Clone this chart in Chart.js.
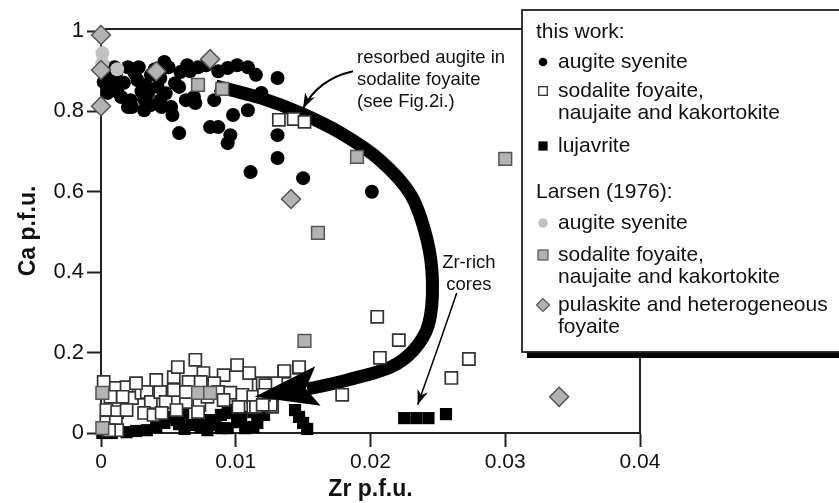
<!DOCTYPE html>
<html>
<head>
<meta charset="utf-8">
<title>Ca vs Zr in clinopyroxene</title>
<script src="https://cdn.jsdelivr.net/npm/chart.js@4.4.1/dist/chart.umd.min.js"></script>
<style>
  html, body { margin: 0; padding: 0; background: #fff; }
  #wrap { width: 839px; height: 503px; }
</style>
</head>
<body>
<div id="wrap"><canvas id="zrCa" width="839" height="503"></canvas></div>
<script>
// --- data: [Zr p.f.u., Ca p.f.u.] ---
const augiteSyenite = [
  [0.0005,0.886],[0.0010,0.910],[0.0020,0.910],[0.0028,0.910],[0.0027,0.878],[0.0017,0.871],
  [0.0007,0.861],[0.0005,0.846],[0.0015,0.836],[0.0022,0.828],[0.0020,0.811],[0.0032,0.803],
  [0.0035,0.846],[0.0044,0.828],[0.0047,0.923],[0.0050,0.910],[0.0042,0.861],[0.0052,0.811],
  [0.0053,0.791],[0.0058,0.746],[0.0059,0.898],[0.0064,0.915],[0.0072,0.910],[0.0078,0.915],
  [0.0058,0.861],[0.0069,0.836],[0.0070,0.821],[0.0084,0.828],[0.0081,0.761],[0.0087,0.761],
  [0.0094,0.908],[0.0101,0.915],[0.0109,0.910],[0.0115,0.891],[0.0119,0.846],[0.0109,0.803],
  [0.0098,0.791],[0.0096,0.741],[0.0094,0.721],[0.0131,0.883],[0.0111,0.649],[0.0131,0.741],
  [0.0131,0.684],[0.0150,0.634],[0.0201,0.600],[0.0037,0.891],[0.0011,0.891],[0.0033,0.866],
  [0.0002,0.873],[0.0004,0.903],[0.0044,0.883],[0.0063,0.828],[0.0023,0.811],[0.0045,0.811],
  [0.0037,0.816],[0.0025,0.895],[0.0040,0.905],[0.0030,0.850],[0.0012,0.850],[0.0055,0.870],
  [0.0008,0.875],[0.0032,0.830],[0.0048,0.845],[0.0066,0.900],[0.0087,0.900]
];
const sodaliteFoyaite = [
  [0.0132,0.779],[0.0143,0.781],[0.0151,0.774],
  [0.0205,0.289],[0.0221,0.231],[0.0207,0.187],[0.0273,0.184],[0.0260,0.137],[0.0179,0.095],
  [0.0147,0.162],[0.0136,0.152],
  [0.0002,0.127],[0.0011,0.112],[0.0019,0.114],[0.0023,0.087],[0.0030,0.100],[0.0034,0.102],
  [0.0037,0.077],[0.0044,0.102],[0.0048,0.077],[0.0054,0.139],[0.0054,0.107],[0.0004,0.057],
  [0.0012,0.052],[0.0019,0.057],[0.0032,0.050],[0.0039,0.045],[0.0045,0.050],[0.0004,0.027],
  [0.0011,0.027],[0.0012,0.007],[0.0006,0.007],[0.0016,0.090],[0.0007,0.090],[0.0070,0.182],
  [0.0057,0.164],[0.0076,0.149],[0.0101,0.169],[0.0091,0.144],[0.0110,0.149],[0.0117,0.119],
  [0.0065,0.127],[0.0074,0.127],[0.0084,0.124],[0.0087,0.102],[0.0096,0.100],[0.0105,0.095],
  [0.0113,0.090],[0.0063,0.077],[0.0073,0.070],[0.0091,0.082],[0.0102,0.065],[0.0113,0.065],
  [0.0056,0.057],[0.0072,0.052],[0.0079,0.090],[0.0120,0.124],[0.0130,0.124],[0.0127,0.065],
  [0.0115,0.065],[0.0136,0.154],[0.0147,0.164],[0.0122,0.119],[0.0126,0.070],[0.0121,0.095],
  [0.0120,0.070],[0.0026,0.124],[0.0041,0.132],[0.0063,0.102]
];
const lujavrite = [
  [0.0225,0.037],[0.0234,0.037],[0.0243,0.037],[0.0256,0.047],
  [0.0144,0.057],[0.0147,0.040],[0.0150,0.025],[0.0153,0.010],
  [0.0001,0.000],[0.0008,0.000],[0.0019,0.002],[0.0026,0.005],[0.0034,0.007],[0.0041,0.015],
  [0.0047,0.025],[0.0050,0.040],[0.0056,0.057],[0.0056,0.032],[0.0061,0.050],[0.0072,0.040],
  [0.0074,0.015],[0.0081,0.032],[0.0089,0.045],[0.0089,0.012],[0.0098,0.050],[0.0101,0.027],
  [0.0113,0.052],[0.0116,0.025],[0.0113,0.015],[0.0121,0.045],[0.0126,0.065],[0.0067,0.020],
  [0.0079,0.007],[0.0107,0.012],[0.0094,0.012],[0.0094,0.057],[0.0062,0.010],[0.0085,0.020],
  [0.0104,0.040],[0.0058,0.022]
];
const larsenAugiteSyenite = [[0.0001,0.945],[0.0012,0.905],[0.0001,0.920]];
const larsenSodaliteFoyaite = [
  [0.0072,0.866],[0.0090,0.856],[0.0190,0.687],[0.0300,0.682],[0.0161,0.498],[0.0151,0.229],
  [0.0072,0.100],[0.0081,0.100],[0.0001,0.100],[0.0001,0.012]
];
const larsenPulaskite = [
  [0.0000,0.990],[0.0000,0.903],[0.0041,0.900],[0.0081,0.930],[0.0000,0.813],[0.0141,0.582],
  [0.0340,0.090]
];

const xTicks = [0, 0.01, 0.02, 0.03, 0.04];
const xTickLabels = ['0', '0.01', '0.02', '0.03', '0.04'];
const yTicks = [0, 0.2, 0.4, 0.6, 0.8, 1];
const yTickLabels = ['0', '0.2', '0.4', '0.6', '0.8', '1'];

// trend arrow (resorbed augite -> Zr-poor rims) and its head
const trendPath = [
  [0.0085,0.863],[0.0119,0.833],[0.0148,0.796],[0.0178,0.746],[0.0207,0.679],[0.0230,0.592],
  [0.0242,0.480],[0.0246,0.373],[0.0243,0.269],[0.0232,0.206],[0.0215,0.164],[0.0183,0.132],
  [0.0153,0.109]
];
const trendHead = [[0.0114,0.090],[0.0159,0.166],[0.0152,0.110],[0.0163,0.068]];

// callout texts and their leader arrows: [start, control, tip]
const resorbedText = ['resorbed augite in', 'sodalite foyaite', '(see Fig.2i.)'];
const resorbedAnchor = [0.0190, 0.933];
const resorbedLeader = [[0.0187,0.900],[0.0161,0.880],[0.0150,0.808]];
const coresText = ['Zr-rich', 'cores'];
const coresAnchor = [0.0273, 0.423];
const coresLeader = [[0.0264,0.348],[0.0250,0.210],[0.0235,0.070]];

const legendLabels = {
  thisWork: 'this work:',
  larsen: 'Larsen (1976):',
  augite: ['augite syenite'],
  sodalite: ['sodalite foyaite,', 'naujaite and kakortokite'],
  lujavrite: ['lujavrite'],
  pulaskite: ['pulaskite and heterogeneous', 'foyaite']
};

const FONT = "'Liberation Sans', Arial, Helvetica, sans-serif";
const INK = '#111';

const markers = {
  blackDot:   { pointStyle: 'circle',  radius: 7,   fill: '#000',    stroke: '#000',    bw: 0 },
  openSquare: { pointStyle: 'rect',    radius: 8.6, fill: '#fff',    stroke: '#333',    bw: 1.7 },
  blackSquare:{ pointStyle: 'rect',    radius: 8.6, fill: '#000',    stroke: '#000',    bw: 0 },
  greyDot:    { pointStyle: 'circle',  radius: 7,   fill: '#c2c2c2', stroke: '#c2c2c2', bw: 0 },
  greySquare: { pointStyle: 'rect',    radius: 9,   fill: '#b3b3b3', stroke: '#555',    bw: 1.5 },
  greyDiamond:{ pointStyle: 'rectRot', radius: 9.5, fill: '#b3b3b3', stroke: '#555',    bw: 1.5 }
};

function series(label, pts, m, order) {
  return {
    label,
    data: pts.map(p => ({ x: p[0], y: p[1] })),
    pointStyle: m.pointStyle,
    pointRadius: m.radius,
    pointHoverRadius: m.radius,
    backgroundColor: m.fill,
    borderColor: m.stroke,
    borderWidth: m.bw,
    order,
    clip: false
  };
}

// frame: top and right edges of the plot box
const framePlugin = {
  id: 'frame',
  beforeDatasetsDraw(chart) {
    const { ctx, chartArea: a } = chart;
    ctx.save();
    ctx.strokeStyle = '#222';
    ctx.lineWidth = 2;
    ctx.beginPath();
    ctx.moveTo(a.left, a.top);
    ctx.lineTo(a.right, a.top);
    ctx.lineTo(a.right, a.bottom);
    ctx.stroke();
    ctx.restore();
  }
};

function toPx(chart, p) {
  return { x: chart.scales.x.getPixelForValue(p[0]), y: chart.scales.y.getPixelForValue(p[1]) };
}

function smoothStroke(ctx, pts) {
  ctx.moveTo(pts[0].x, pts[0].y);
  for (let i = 0; i < pts.length - 1; i++) {
    const p0 = pts[i - 1] || pts[i], p1 = pts[i], p2 = pts[i + 1], p3 = pts[i + 2] || p2;
    ctx.bezierCurveTo(
      p1.x + (p2.x - p0.x) / 6, p1.y + (p2.y - p0.y) / 6,
      p2.x - (p3.x - p1.x) / 6, p2.y - (p3.y - p1.y) / 6,
      p2.x, p2.y
    );
  }
}

function leader(ctx, chart, pts, width) {
  const [s, c, t] = pts.map(p => toPx(chart, p));
  ctx.beginPath();
  ctx.moveTo(s.x, s.y);
  ctx.quadraticCurveTo(c.x, c.y, t.x, t.y);
  ctx.lineWidth = width;
  ctx.stroke();
  // small filled head
  const ang = Math.atan2(t.y - c.y, t.x - c.x);
  const len = 15, half = 5.5;
  const bx = t.x - Math.cos(ang) * len, by = t.y - Math.sin(ang) * len;
  const nx = t.x - Math.cos(ang) * len * 0.7, ny = t.y - Math.sin(ang) * len * 0.7;
  ctx.beginPath();
  ctx.moveTo(t.x, t.y);
  ctx.lineTo(bx - Math.sin(ang) * half, by + Math.cos(ang) * half);
  ctx.lineTo(nx, ny);
  ctx.lineTo(bx + Math.sin(ang) * half, by - Math.cos(ang) * half);
  ctx.closePath();
  ctx.fill();
}

const arrowPlugin = {
  id: 'trendArrow',
  beforeDatasetsDraw(chart) {
    const { ctx } = chart;
    ctx.save();
    ctx.strokeStyle = '#000';
    ctx.lineWidth = 13;
    ctx.lineCap = 'butt';
    ctx.beginPath();
    smoothStroke(ctx, trendPath.map(p => toPx(chart, p)));
    ctx.stroke();
    ctx.restore();
  },
  afterDatasetsDraw(chart) {
    const { ctx } = chart;
    ctx.save();
    ctx.fillStyle = '#000';
    ctx.strokeStyle = '#000';
    const h = trendHead.map(p => toPx(chart, p));
    ctx.beginPath();
    ctx.moveTo(h[0].x, h[0].y);
    for (let i = 1; i < h.length; i++) ctx.lineTo(h[i].x, h[i].y);
    ctx.closePath();
    ctx.fill();

    leader(ctx, chart, resorbedLeader, 2);
    leader(ctx, chart, coresLeader, 1.5);

    ctx.fillStyle = INK;
    ctx.font = `18.5px ${FONT}`;
    ctx.textBaseline = 'middle';
    ctx.textAlign = 'left';
    let a = toPx(chart, resorbedAnchor);
    resorbedText.forEach((t, i) => ctx.fillText(t, a.x, a.y + i * 22));
    ctx.textAlign = 'center';
    a = toPx(chart, coresAnchor);
    coresText.forEach((t, i) => ctx.fillText(t, a.x, a.y + i * 22));
    ctx.restore();
  }
};

function legendMarker(ctx, kind, x, y) {
  ctx.save();
  switch (kind) {
    case 'blackDot':
      ctx.fillStyle = '#000';
      ctx.beginPath(); ctx.arc(x, y, 4.3, 0, Math.PI * 2); ctx.fill();
      break;
    case 'openSquare':
      ctx.fillStyle = '#fff'; ctx.strokeStyle = '#333'; ctx.lineWidth = 1.3;
      ctx.fillRect(x - 4.3, y - 4.3, 8.6, 8.6); ctx.strokeRect(x - 4.3, y - 4.3, 8.6, 8.6);
      break;
    case 'blackSquare':
      ctx.fillStyle = '#000'; ctx.fillRect(x - 4.6, y - 4.6, 9.2, 9.2);
      break;
    case 'greyDot':
      ctx.fillStyle = '#c2c2c2';
      ctx.beginPath(); ctx.arc(x, y, 4.8, 0, Math.PI * 2); ctx.fill();
      break;
    case 'greySquare':
      ctx.fillStyle = '#b3b3b3'; ctx.strokeStyle = '#555'; ctx.lineWidth = 1.2;
      ctx.fillRect(x - 5, y - 5, 10, 10); ctx.strokeRect(x - 5, y - 5, 10, 10);
      break;
    case 'greyDiamond':
      ctx.fillStyle = '#b3b3b3'; ctx.strokeStyle = '#555'; ctx.lineWidth = 1.2;
      ctx.beginPath();
      ctx.moveTo(x - 6.5, y); ctx.lineTo(x, y - 6.5); ctx.lineTo(x + 6.5, y); ctx.lineTo(x, y + 6.5);
      ctx.closePath(); ctx.fill(); ctx.stroke();
      break;
  }
  ctx.restore();
}

const legendPlugin = {
  id: 'boxLegend',
  afterDraw(chart) {
    const { ctx } = chart;
    const box = { x: 522, y: 10, w: 330, h: 342 };
    ctx.save();
    // drop shadow then the box
    ctx.fillStyle = '#000';
    ctx.fillRect(box.x + 5, box.y + 5, box.w, box.h + 1);
    ctx.fillStyle = '#fff';
    ctx.fillRect(box.x, box.y, box.w, box.h);
    ctx.strokeStyle = '#222';
    ctx.lineWidth = 1.8;
    ctx.strokeRect(box.x, box.y, box.w, box.h);

    const rows = [
      { head: legendLabels.thisWork, y: 32 },
      { mark: 'blackDot', lines: legendLabels.augite, y: 62 },
      { mark: 'openSquare', lines: legendLabels.sodalite, y: 91 },
      { mark: 'blackSquare', lines: legendLabels.lujavrite, y: 146 },
      { head: legendLabels.larsen, y: 192 },
      { mark: 'greyDot', lines: legendLabels.augite, y: 223 },
      { mark: 'greySquare', lines: legendLabels.sodalite, y: 255 },
      { mark: 'greyDiamond', lines: legendLabels.pulaskite, y: 305 }
    ];
    ctx.fillStyle = INK;
    ctx.font = `21px ${FONT}`;
    ctx.textBaseline = 'middle';
    ctx.textAlign = 'left';
    rows.forEach(r => {
      if (r.head) {
        ctx.fillText(r.head, 536, r.y);
        return;
      }
      legendMarker(ctx, r.mark, 543, r.y);
      ctx.fillStyle = INK;
      r.lines.forEach((t, i) => ctx.fillText(t, 558, r.y + i * 22));
    });
    ctx.restore();
  }
};

new Chart(document.getElementById('zrCa'), {
  type: 'scatter',
  data: {
    datasets: [
      series('pulaskite and heterogeneous foyaite (Larsen 1976)', larsenPulaskite, markers.greyDiamond, 1),
      series('sodalite foyaite, naujaite and kakortokite (Larsen 1976)', larsenSodaliteFoyaite, markers.greySquare, 2),
      series('augite syenite (Larsen 1976)', larsenAugiteSyenite, markers.greyDot, 3),
      series('sodalite foyaite, naujaite and kakortokite', sodaliteFoyaite, markers.openSquare, 4),
      series('lujavrite', lujavrite, markers.blackSquare, 5),
      series('augite syenite', augiteSyenite, markers.blackDot, 6)
    ]
  },
  options: {
    responsive: false,
    animation: false,
    events: [],
    layout: { padding: { top: 29, right: 199, left: 0, bottom: 0 } },
    plugins: { legend: { display: false }, tooltip: { enabled: false } },
    scales: {
      x: {
        type: 'linear',
        min: 0,
        max: 0.04,
        afterBuildTicks: s => { s.ticks = xTicks.map(v => ({ value: v })); },
        afterFit: s => { s.height = 70; },
        ticks: {
          callback: (v, i) => xTickLabels[i],
          font: { family: FONT, size: 21 },
          color: INK,
          padding: 3,
          maxRotation: 0,
          autoSkip: false
        },
        grid: { drawOnChartArea: false, drawTicks: true, tickLength: 14, tickColor: '#222', tickWidth: 2 },
        border: { display: true, color: '#222', width: 2 },
        title: {
          display: true,
          text: 'Zr p.f.u.',
          font: { family: FONT, size: 23, weight: 'bold' },
          color: INK,
          padding: { top: 0, bottom: 0 }
        }
      },
      y: {
        type: 'linear',
        min: 0,
        max: 1.005,
        afterBuildTicks: s => { s.ticks = yTicks.map(v => ({ value: v })); },
        afterFit: s => { s.width = 101; },
        ticks: {
          callback: (v, i) => yTickLabels[i],
          font: { family: FONT, size: 22 },
          color: INK,
          padding: 3,
          autoSkip: false
        },
        grid: { drawOnChartArea: false, drawTicks: true, tickLength: 14, tickColor: '#222', tickWidth: 2 },
        border: { display: true, color: '#222', width: 2 },
        title: {
          display: true,
          text: 'Ca p.f.u.',
          font: { family: FONT, size: 23, weight: 'bold' },
          color: INK,
          padding: { top: 15, bottom: 0 }
        }
      }
    }
  },
  plugins: [framePlugin, arrowPlugin, legendPlugin]
});
</script>
</body>
</html>
